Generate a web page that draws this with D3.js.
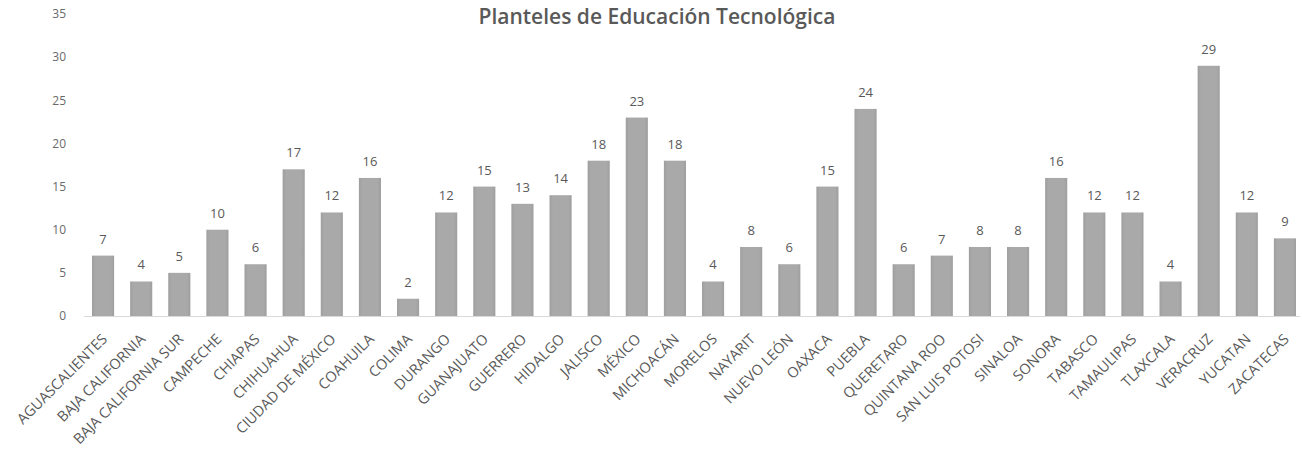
<!DOCTYPE html>
<html>
<head>
<meta charset="utf-8">
<script src="https://cdn.jsdelivr.net/npm/d3@7"></script>
<style>
  html, body { margin: 0; padding: 0; background: #ffffff; }
  svg { display: block; }
</style>
</head>
<body>
<svg id="chart" width="1302" height="456"></svg>
<script>
// Planteles de Educación Tecnológica por entidad federativa
const chartTitle = "Planteles de Educación Tecnológica";

const estados = [
  "AGUASCALIENTES", "BAJA CALIFORNIA", "BAJA CALIFORNIA SUR", "CAMPECHE", "CHIAPAS",
  "CHIHUAHUA", "CIUDAD DE MÉXICO", "COAHUILA", "COLIMA", "DURANGO",
  "GUANAJUATO", "GUERRERO", "HIDALGO", "JALISCO", "MÉXICO",
  "MICHOACÁN", "MORELOS", "NAYARIT", "NUEVO LEÓN", "OAXACA",
  "PUEBLA", "QUERETARO", "QUINTANA ROO", "SAN LUIS POTOSI", "SINALOA",
  "SONORA", "TABASCO", "TAMAULIPAS", "TLAXCALA", "VERACRUZ",
  "YUCATAN", "ZACATECAS"
];

const planteles = [
  7, 4, 5, 10, 6,
  17, 12, 16, 2, 12,
  15, 13, 14, 18, 23,
  18, 4, 8, 6, 15,
  24, 6, 7, 8, 8,
  16, 12, 12, 4, 29,
  12, 9
];

const yTicks = [0, 5, 10, 15, 20, 25, 30, 35];

const svg = d3.select("#chart");
const baseY = 316;
const topY = 14;

const x = d3.scaleBand()
  .domain(estados)
  .range([84, 1304])
  .paddingInner(0.42)
  .paddingOuter(0.21);

const y = d3.scaleLinear()
  .domain([0, 35])
  .range([baseY, topY]);

const fontFam = "'Open Sans', 'Noto Sans', sans-serif";
const textColor = "#595959";

// bar shading
const defs = svg.append("defs");
const grad = defs.append("linearGradient").attr("id", "barFill")
  .attr("x1", "0").attr("x2", "1").attr("y1", "0").attr("y2", "0");
grad.append("stop").attr("offset", "0%").attr("stop-color", "#9e9e9e");
grad.append("stop").attr("offset", "15%").attr("stop-color", "#a9a9a9");
grad.append("stop").attr("offset", "85%").attr("stop-color", "#a9a9a9");
grad.append("stop").attr("offset", "100%").attr("stop-color", "#9e9e9e");

// title
svg.append("text")
  .attr("x", 657)
  .attr("y", 24)
  .attr("text-anchor", "middle")
  .attr("font-family", fontFam)
  .attr("font-size", 21)
  .attr("font-weight", 600)
  .attr("fill", textColor)
  .text(chartTitle);

// y axis labels
const yAxis = d3.axisLeft(y).tickValues(yTicks).tickSize(0).tickPadding(0);
const gy = svg.append("g")
  .attr("transform", "translate(66,0)")
  .call(yAxis);
gy.select(".domain").remove();
gy.selectAll("text")
  .attr("font-family", fontFam)
  .attr("font-size", 12)
  .attr("fill", "#6a6a6a");

// baseline
svg.append("line")
  .attr("x1", 84).attr("x2", 1300)
  .attr("y1", y(0) + 0.5).attr("y2", y(0) + 0.5)
  .attr("stroke", "#d9d9d9")
  .attr("stroke-width", 1);

const rows = estados.map((e, i) => ({ e, v: planteles[i] }));

// bars
svg.append("g").selectAll("rect")
  .data(rows)
  .join("rect")
  .attr("x", d => x(d.e))
  .attr("y", d => y(d.v))
  .attr("width", x.bandwidth())
  .attr("height", d => y(0) - y(d.v))
  .attr("fill", "url(#barFill)");

// value labels
svg.append("g").selectAll("text")
  .data(rows)
  .join("text")
  .attr("x", d => x(d.e) + x.bandwidth() / 2)
  .attr("y", d => y(d.v) - 12)
  .attr("text-anchor", "middle")
  .attr("font-family", fontFam)
  .attr("font-size", 13)
  .attr("fill", textColor)
  .text(d => d.v);

// category labels
const xAxis = d3.axisBottom(x).tickSize(0).tickPadding(0);
const gx = svg.append("g")
  .attr("transform", `translate(0,${baseY})`)
  .call(xAxis);
gx.select(".domain").remove();
gx.selectAll("text")
  .attr("font-family", fontFam)
  .attr("font-size", 14.5)
  .attr("fill", textColor)
  .attr("text-anchor", "end")
  .attr("dy", null)
  .attr("y", 0)
  .attr("transform", "translate(5,24) rotate(-45)");
</script>
</body>
</html>
